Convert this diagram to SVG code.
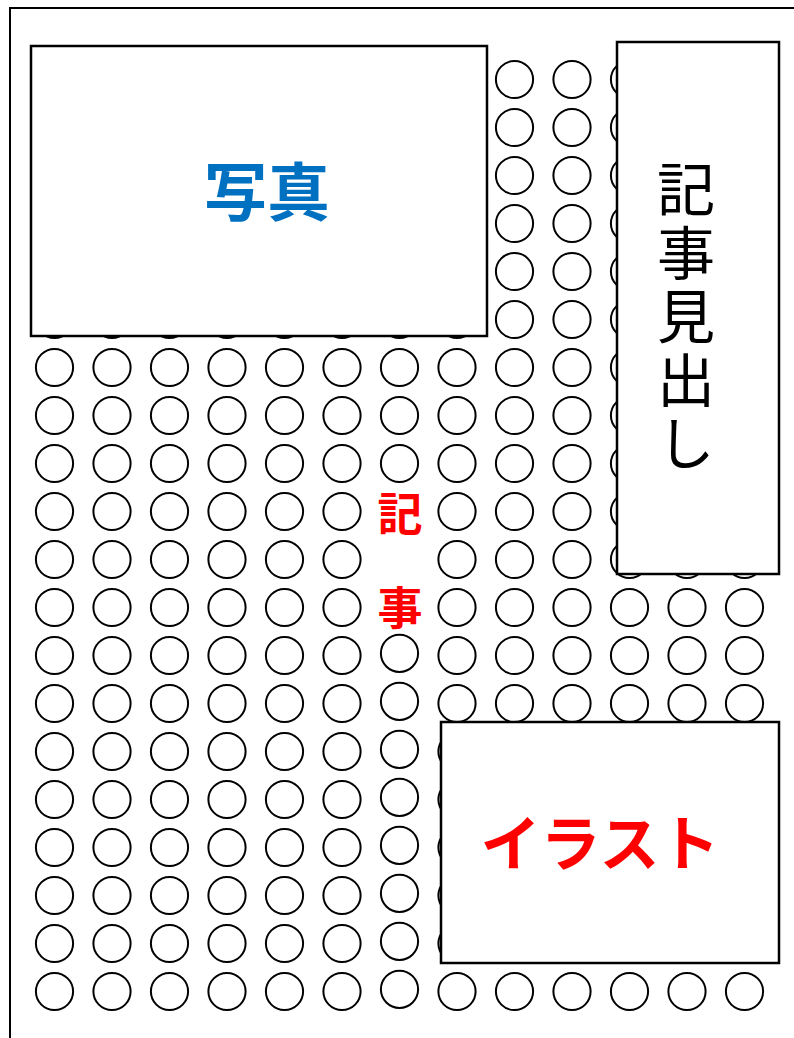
<svg xmlns="http://www.w3.org/2000/svg" xmlns:xlink="http://www.w3.org/1999/xlink" width="794" height="1038" viewBox="0 0 794 1038">
<style>
.c{fill:none;stroke:#000;stroke-width:2}
.box{fill:#fff;stroke:#000;stroke-width:2.5}
.border{fill:none;stroke:#000;stroke-width:2}
.t{font-family:"Noto Sans CJK JP","Noto Sans CJK SC",sans-serif;text-anchor:middle;dominant-baseline:central}
.blue{fill:#0070C0;font-weight:bold}
.red{fill:#FF0000;font-weight:bold}
.black{fill:#000;font-weight:normal}
.vert{font-family:"Noto Sans CJK JP","Noto Sans CJK SC",sans-serif;writing-mode:vertical-rl;text-anchor:start}
</style>
<defs>
<circle id="c" class="c" cx="0" cy="0" r="18.6"/>
<g id="row12">
<use href="#c" x="54.5"/><use href="#c" x="112"/><use href="#c" x="169.5"/><use href="#c" x="227"/><use href="#c" x="284.5"/><use href="#c" x="342"/>
<use href="#c" x="457"/><use href="#c" x="514.5"/><use href="#c" x="572"/><use href="#c" x="629.5"/><use href="#c" x="687"/><use href="#c" x="744.5"/>
</g>
<g id="rowfull">
<use href="#row12"/><use href="#c" x="399.5"/>
</g>
</defs>
<rect class="border" x="10" y="8" width="800" height="1050"/>
<g id="grid">
<use href="#rowfull" y="79.5"/>
<use href="#rowfull" y="127.5"/>
<use href="#rowfull" y="175.5"/>
<use href="#rowfull" y="223.5"/>
<use href="#rowfull" y="271.5"/>
<use href="#rowfull" y="319.5"/>
<use href="#rowfull" y="367.5"/>
<use href="#rowfull" y="415.5"/>
<use href="#rowfull" y="463.5"/>
<use href="#row12" y="511.5"/>
<use href="#row12" y="559.5"/>
<use href="#row12" y="607.5"/>
<use href="#row12" y="655.5"/>
<use href="#row12" y="703.5"/>
<use href="#row12" y="751.5"/>
<use href="#row12" y="799.5"/>
<use href="#row12" y="847.5"/>
<use href="#row12" y="895.5"/>
<use href="#row12" y="943.5"/>
<use href="#row12" y="991.5"/>
</g>
<g id="col-kiji">
<use href="#c" x="399.5" y="653.3"/>
<use href="#c" x="399.5" y="701.3"/>
<use href="#c" x="399.5" y="749.3"/>
<use href="#c" x="399.5" y="797.3"/>
<use href="#c" x="399.5" y="845.3"/>
<use href="#c" x="399.5" y="893.3"/>
<use href="#c" x="399.5" y="941.3"/>
<use href="#c" x="399.5" y="989.3"/>
</g>
<g id="kiji-label">
<text class="t red" x="400" y="511.5" font-size="45">記</text>
<text class="t red" x="400" y="605.5" font-size="45">事</text>
</g>
<g id="photo">
<rect class="box" x="31" y="46" width="456" height="290"/>
<text class="t blue" x="267" y="187.5" font-size="63">写真</text>
</g>
<g id="headline">
<rect class="box" x="617" y="42" width="162" height="532"/>
<text class="vert black" x="686" y="160" font-size="58" letter-spacing="5.5">記事見出し</text>
</g>
<g id="illust">
<rect class="box" x="441" y="722" width="338" height="241"/>
<text class="t red" x="600" y="839" font-size="60">イラスト</text>
</g>
</svg>
